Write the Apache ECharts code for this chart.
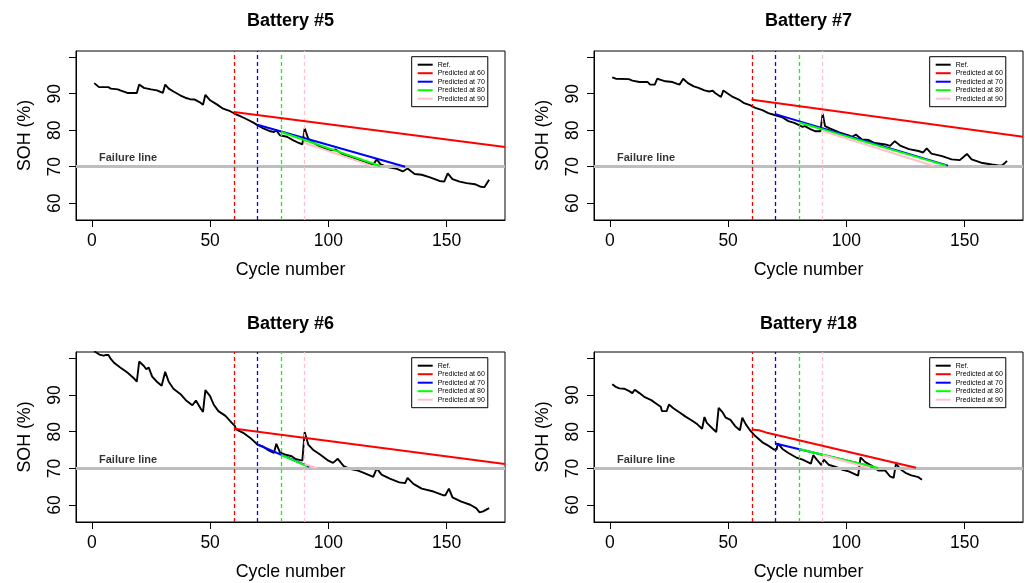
<!DOCTYPE html>
<html>
<head>
<meta charset="utf-8">
<script src="https://cdn.jsdelivr.net/npm/echarts@6/dist/echarts.min.js"></script>
<style>
  html, body { margin: 0; padding: 0; background: #fff; }
  #chart { width: 1025px; height: 583px; }
</style>
</head>
<body>
<div id="chart"></div>
<script>
// reference capacity curves, [cycle, SOH %]
const b5Ref = [[1,92.9],[3,91.8],[7,91.8],[8,91.4],[11,91.2],[12,90.9],[15,90.2],[19,90.2],[20,92.5],[22,91.6],[25,91.2],[27.5,90.9],[30,90.2],[31,92.5],[32.5,91.4],[34.5,90.6],[37.5,89.5],[39.5,88.9],[41.5,88.5],[43.5,88.4],[45.5,87.7],[47,87.0],[48,89.7],[50,88.2],[53,87.0],[55.5,85.9],[58.5,85.2],[60.5,84.5],[62.5,83.9],[65.5,83.0],[68.5,82.0],[70,81.4],[72.5,80.5],[75.5,79.7],[77,79.5],[78,80.0],[79.5,78.6],[82.5,78.2],[85,77.3],[87.5,76.5],[89,76.1],[90,80.5],[91.5,77.7],[93,76.8],[96.5,75.5],[100.5,74.4],[103,74.7],[106,73.4],[110.5,72.5],[115,71.5],[118,70.7],[119,70.6],[120.5,72.0],[122,70.7],[124.5,70.0],[129,69.4],[131.5,68.7],[133.5,69.5],[136.5,68.0],[139.5,67.8],[143,67.1],[147,66.1],[149,65.9],[150.5,68.2],[152.5,66.6],[155.5,65.9],[158.5,65.5],[162,65.2],[164.5,64.5],[166,64.4],[168,66.4]];
const b7Ref = [[1,94.5],[2.5,94.1],[8,94.0],[9.5,93.6],[12.5,93.2],[16,93.2],[17,92.5],[19,92.5],[20,94.1],[21.5,93.8],[23.5,93.4],[26.5,93.2],[28.5,92.7],[29.5,92.5],[31,94.1],[33,92.9],[35.5,92.0],[37.5,91.6],[40,90.9],[42,90.6],[43.5,90.8],[44.5,90.2],[47,89.1],[48,90.9],[49.5,90.2],[52,89.1],[54.5,88.4],[56.5,87.5],[59.5,86.8],[61.5,86.1],[64.5,85.5],[67,84.7],[70,84.1],[73,83.5],[75.5,82.5],[78,82.0],[80,81.4],[81.5,80.9],[82.5,81.1],[85,80.2],[87,79.7],[89,79.7],[90,84.5],[91,81.1],[93,80.5],[97,79.4],[101,78.6],[102.5,78.2],[104,78.8],[106.5,77.5],[109.5,77.3],[112,76.5],[116.5,76.1],[118.5,75.7],[120.5,77.0],[123,75.7],[126.5,74.8],[130.5,74.3],[132.5,73.9],[134,75.0],[136,73.6],[140.5,72.9],[144.5,72.0],[148,71.8],[151,73.5],[153,72.0],[157,71.1],[161.5,70.6],[165,70.3],[166,70.4],[168,71.6]];
const b6Ref = [[1,101.9],[2.5,101.3],[3.5,100.9],[5,100.7],[6,100.9],[7,100.9],[8,99.8],[9.5,98.7],[12,97.5],[15,96.1],[17.5,94.7],[19,93.6],[20,99.1],[22,97.9],[23,97.0],[24,97.5],[25.5,95.0],[27.5,93.6],[29.5,92.5],[31,96.3],[32.5,93.6],[34.5,91.7],[37.5,90.2],[40,88.4],[42.5,87.2],[44,88.5],[46,86.3],[47,85.4],[48,91.3],[50,89.7],[51.5,87.4],[53.5,85.6],[56.5,84.3],[58.5,82.9],[60.5,81.5],[61,80.6],[64,79.7],[67,78.3],[70,76.5],[72.5,75.9],[74.5,75.0],[77,74.2],[78,76.7],[79.5,74.4],[81.5,73.8],[84.5,73.3],[86,72.6],[89,72.1],[90,79.9],[91.5,76.5],[93.5,75.1],[96.5,73.8],[100,72.1],[102,71.5],[104,72.6],[106.5,70.6],[109,69.9],[112,69.5],[115,68.8],[119,67.7],[120.5,70.0],[122.5,68.3],[126,67.2],[130,66.2],[132.5,66.0],[133.5,67.4],[136,65.8],[139.5,64.5],[144.5,63.7],[148.5,62.7],[149.5,62.7],[151,64.5],[152.5,62.1],[156,61.0],[160,60.1],[162.5,59.2],[164,58.0],[165.5,58.3],[166,58.0],[168,59.2]];
const b18Ref = [[1,92.9],[2.5,92.2],[4,91.8],[6,91.7],[8,91.1],[9.5,90.5],[10.5,91.4],[12.5,90.5],[14.5,89.5],[17.5,88.6],[19.5,87.7],[21.5,86.8],[22,85.6],[24,85.6],[25,87.4],[27,86.3],[29.5,85.2],[32,84.1],[35,82.9],[37,82.0],[39,80.8],[40,84.0],[41,82.4],[43.5,80.8],[45,79.9],[46,86.5],[47.5,85.4],[49,83.8],[51,83.2],[53,81.5],[55,80.4],[56,83.8],[57.5,82.0],[59.5,80.2],[61.5,78.8],[64.5,77.1],[67,76.2],[69.5,75.1],[70.5,75.1],[71,76.8],[73,75.3],[75.5,74.2],[79,72.9],[81.5,72.4],[85,71.3],[86,73.6],[87.5,72.4],[89.5,70.9],[90.5,72.4],[92.5,71.0],[95.5,70.4],[98,69.7],[101,69.2],[104,68.3],[105,68.0],[106,73.0],[108,71.7],[111,70.6],[113.5,69.4],[116.5,69.4],[118.5,67.8],[120,67.4],[121,71.3],[123,69.7],[125,68.8],[127.5,68.1],[130.5,67.6],[132,66.9]];

// predicted trajectories, started at cycle 60 / 70 / 80 / 90
const b5Pred = [
  [[60,85.0],[174.7,75.4]],
  [[70,81.5],[132.5,70.0]],
  [[80,79.5],[122,70.2]],
  [[90,76.5],[119,70.1]]
];
const b7Pred = [
  [[60,88.6],[61,88.25],[174.7,78.2]],
  [[70,84.4],[143,70.3]],
  [[80,82.1],[142.3,70.3]],
  [[90,79.8],[137,70.2]]
];
const b6Pred = [
  [[60.5,80.8],[174.7,71.2]],
  [[70,76.5],[92,70.4]],
  [[80,73.7],[91,70.6]],
  [[90,71.2],[95,70.1]]
];
const b18Pred = [
  [[60,80.6],[63,80.4],[66,79.8],[129.5,70.2]],
  [[70,76.8],[112,70.3]],
  [[80,75.3],[113.5,70.1]],
  [[90,73.6],[110,70.1]]
];

const predStarts = [60, 70, 80, 90];
const predNames = ['Predicted at 60', 'Predicted at 70', 'Predicted at 80', 'Predicted at 90'];
const predColors = ['#ff0000', '#0000ff', '#00ff00', '#ffc0cb'];
const failureLevel = 70;
const failureLabelAt = [15.3, 72.4];
const xTicks = [0, 50, 100, 150];
const yTicks = [60, 70, 80, 90, 100];
const yLabels = [60, 70, 80, 90];

const FONT = 'Liberation Sans, Arial, Helvetica, sans-serif';

const panels = [
  { title: 'Battery #5', ref: b5Ref, pred: b5Pred, left: 76, top: 51, h: 169, titleY: 20.7 },
  { title: 'Battery #7', ref: b7Ref, pred: b7Pred, left: 594, top: 51, h: 169, titleY: 20.7 },
  { title: 'Battery #6', ref: b6Ref, pred: b6Pred, left: 76, top: 352, h: 170, titleY: 324 },
  { title: 'Battery #18', ref: b18Ref, pred: b18Pred, left: 594, top: 352, h: 170, titleY: 324 }
];
const plotW = 429;

let chart = echarts.init(document.getElementById('chart'));

let grids = [], xAxes = [], yAxes = [], series = [], legends = [], graphics = [];

panels.forEach((p, i) => {
  grids.push({
    left: p.left, top: p.top, width: plotW, height: p.h,
    show: true, borderColor: '#000', borderWidth: 1, backgroundColor: 'transparent'
  });
  xAxes.push({
    type: 'value', gridIndex: i, min: -6.72, max: 174.72,
    splitLine: { show: false },
    axisLine: { show: true, onZero: false, lineStyle: { color: '#000', width: 1 } },
    axisTick: { show: true, inside: false, length: 7, customValues: xTicks, lineStyle: { color: '#000' } },
    axisLabel: { customValues: xTicks, fontSize: 17.5, color: '#000', margin: 12, fontFamily: FONT },
    name: 'Cycle number', nameLocation: 'middle', nameGap: 41,
    nameTextStyle: { fontSize: 17.8, color: '#000', fontFamily: FONT }
  });
  yAxes.push({
    type: 'value', gridIndex: i, min: 55.4, max: 101.7,
    splitLine: { show: false },
    axisLine: { show: true, onZero: false, lineStyle: { color: '#000', width: 1 } },
    axisTick: { show: true, inside: false, length: 7, customValues: yTicks, lineStyle: { color: '#000' } },
    axisLabel: { customValues: yLabels, rotate: 90, fontSize: 17.5, color: '#000', margin: 12, fontFamily: FONT },
    name: 'SOH (%)', nameLocation: 'middle', nameGap: 42,
    nameTextStyle: { fontSize: 17.8, color: '#000', fontFamily: FONT }
  });

  // reference curve, with the failure line on top of it
  series.push({
    type: 'line', name: 'Ref.', xAxisIndex: i, yAxisIndex: i,
    data: p.ref, symbol: 'none', color: '#000',
    lineStyle: { color: '#000', width: 1.9 }, z: 2,
    markLine: {
      silent: true, symbol: 'none', label: { show: false }, z: 5,
      lineStyle: { color: '#bebebe', width: 3, type: 'solid' },
      data: [{ yAxis: failureLevel }]
    }
  });

  series.push({
    type: 'scatter', xAxisIndex: i, yAxisIndex: i, symbolSize: 0, z: 6,
    data: [failureLabelAt], silent: true,
    label: { show: true, position: 'inside', formatter: 'Failure line', fontSize: 11, fontWeight: 'bold', color: '#000', fontFamily: FONT }
  });

  // predicted lines; each carries its own dashed start marker
  p.pred.forEach((d, k) => {
    series.push({
      type: 'line', name: predNames[k], xAxisIndex: i, yAxisIndex: i,
      data: d, symbol: 'none', color: predColors[k],
      lineStyle: { color: predColors[k], width: 2 }, z: 7,
      markLine: {
        silent: true, symbol: 'none', label: { show: false }, z: 5,
        lineStyle: { color: predColors[k], width: 1.3, type: [4, 3] },
        data: [{ xAxis: predStarts[k] }]
      }
    });
  });

  legends.push({
    left: p.left + 335.7, top: p.top + 5.7, orient: 'vertical',
    data: ['Ref.'].concat(predNames), selectedMode: false,
    icon: 'rect', itemWidth: 15, itemHeight: 2, itemGap: 0.5,
    padding: [4, 3, 4, 6],
    borderColor: '#000', borderWidth: 1, backgroundColor: '#fff',
    textStyle: { fontSize: 7, lineHeight: 8, color: '#000', fontFamily: FONT }
  });

  graphics.push({
    type: 'text', x: p.left + plotW / 2, y: p.titleY,
    style: { text: p.title, font: 'bold 18px ' + FONT, fill: '#000',
      textAlign: 'center', textVerticalAlign: 'middle', align: 'center', verticalAlign: 'middle' }
  });
});

let option = {
  animation: false,
  backgroundColor: '#fff',
  grid: grids,
  xAxis: xAxes,
  yAxis: yAxes,
  legend: legends,
  graphic: graphics,
  series: series
};

chart.setOption(option);
</script>
</body>
</html>
